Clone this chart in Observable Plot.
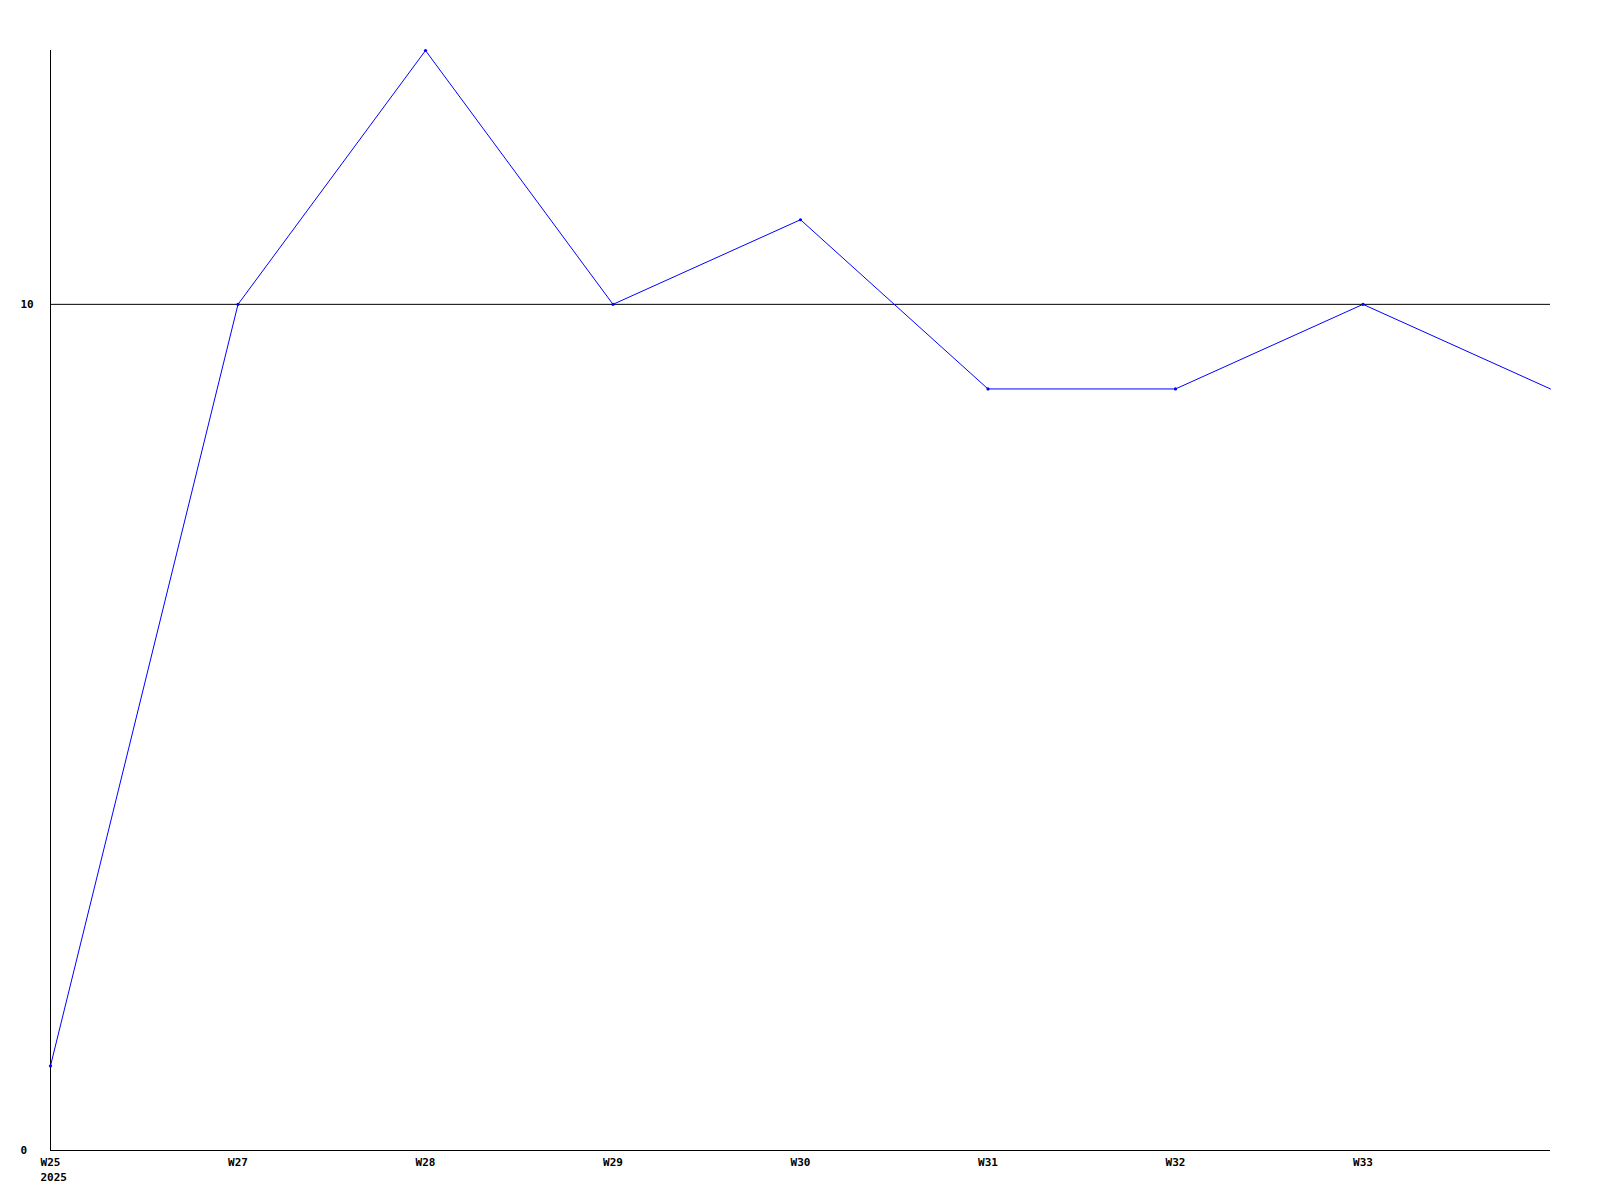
<!DOCTYPE html>
<html>
<head>
<meta charset="utf-8">
<script src="https://cdn.jsdelivr.net/npm/d3@7"></script>
<script src="https://cdn.jsdelivr.net/npm/@observablehq/plot@0.6"></script>
<style>
  html, body { margin: 0; padding: 0; background: #fff; }
  #chart { width: 1600px; height: 1200px; }
</style>
</head>
<body>
<div id="chart"></div>
<script>
const weekIndex = [0, 1, 2, 3, 4, 5, 6, 7, 8];
const values = [1, 10, 13, 10, 11, 9, 9, 10, 9];
const tickPositions = [0, 1, 2, 3, 4, 5, 6, 7];
const tickLabels = ["W25", "W27", "W28", "W29", "W30", "W31", "W32", "W33"];
const yearLabel = ["2025"];
const yTicks = [0, 10];
const gridValues = [10];

const data = weekIndex.map((x, i) => ({x, y: values[i]}));
const markerData = data.slice(0, data.length - 1);

const chart = Plot.plot({
  width: 1600,
  height: 1200,
  marginLeft: 50,
  marginRight: 50,
  marginTop: 50,
  marginBottom: 50,
  style: {fontFamily: "'DejaVu Sans Mono', monospace", fontSize: "11px", fontWeight: "bold", background: "#fff", color: "#000"},
  x: {domain: [0, 8]},
  y: {domain: [0, 13]},
  marks: [
    Plot.ruleY(gridValues, {stroke: "#000", strokeWidth: 1}),
    Plot.ruleY([0], {stroke: "#000", strokeWidth: 1}),
    Plot.ruleX([0], {stroke: "#000", strokeWidth: 1}),
    Plot.axisY({ticks: yTicks, tickSize: 0, tickPadding: 30, textAnchor: "start", tickFormat: d => String(d), label: null, fill: "#000"}),
    Plot.axisX({ticks: tickPositions, tickSize: 0, tickPadding: 8, tickFormat: (d, i) => tickLabels[i], label: null, fill: "#000"}),
    Plot.text(yearLabel, {x: () => 0, frameAnchor: "bottom", dy: 30, dx: -10, textAnchor: "start", text: d => d, fill: "#000"}),
    Plot.line(data, {x: "x", y: "y", stroke: "#0000ff", strokeWidth: 1}),
    Plot.dot(markerData, {x: "x", y: "y", r: 1.6, fill: "#0000ff", stroke: "none"})
  ]
});
document.getElementById("chart").appendChild(chart);
</script>
</body>
</html>
